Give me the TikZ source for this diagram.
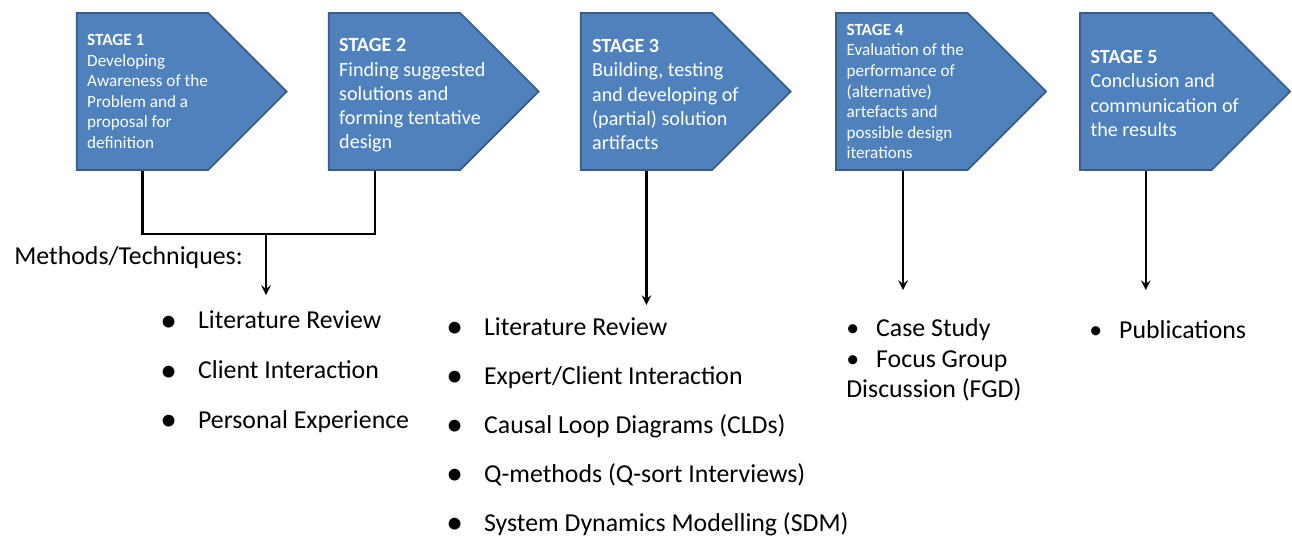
\documentclass[tikz,border=0pt]{standalone}
\usepackage{fontspec}
\setmainfont{Carlito}
\usetikzlibrary{shapes.symbols,calc}

\definecolor{stagefill}{HTML}{4F81BD}
\definecolor{stageline}{HTML}{385D8A}

\newcommand{\bigbul}{\makebox[21.5pt][l]{\fontsize{19}{19}\selectfont\raisebox{-1.3pt}[0pt][0pt]{\textbullet}}}
\newcommand{\smallbul}{\makebox[17pt][l]{\textbullet}}

\begin{document}
\begin{tikzpicture}[x=0.02cm, y=-0.02cm, >=stealth, node distance=5.04cm]
    \tikzstyle{stage} = [draw=stageline, fill=stagefill, line width=1pt,
	shape=signal, signal to=east, signal pointer angle=90,
	minimum width=4.2cm, minimum height=3.14cm, inner sep=0pt]
    \tikzstyle{stagetext} = [anchor=west, align=left, text=white, inner sep=0pt]
    \tikzstyle{small} = [font=\fontsize{9.75}{11.7}\selectfont]
    \tikzstyle{big} = [font=\fontsize{11.45}{13.8}\selectfont]
    \tikzstyle{items} = [anchor=west, align=left, inner sep=0pt]
    \tikzstyle{link} = [line width=1.4pt]

    \useasboundingbox (0,0) rectangle (1292,542);

	% stages
	\path
		node[stage] (s1) at (142.5,91.5) {}
		node[stage, right of=s1] (s2) {}
		node[stage, right of=s2] (s3) {}
		node[stage, right of=s3, xshift=0.07cm] (s4) {}
		node[stage, right of=s4, xshift=-0.16cm] (s5) {}

		node[stagetext, small] (t1) at ($(s1.west)+(11,0)$)
			{\textbf{STAGE 1}\\Developing\\Awareness of the\\Problem and a\\proposal for\\definition}
		node[stagetext, big] (t2) at ($(s2.west)+(11,4)$)
			{\textbf{STAGE 2}\\Finding suggested\\solutions and\\forming tentative\\design}
		node[stagetext, big] (t3) at ($(s3.west)+(12,3)$)
			{\textbf{STAGE 3}\\Building, testing\\and developing of\\(partial) solution\\artifacts}
		node[stagetext, small] (t4) at ($(s4.west)+(11,0)$)
			{\textbf{STAGE 4}\\Evaluation of the\\performance of\\(alternative)\\artefacts and\\possible design\\iterations}
		node[stagetext, big] (t5) at ($(s5.west)+(11,2)$)
			{\textbf{STAGE 5}\\Conclusion and\\communication of\\the results}
	;

	% methods
	\node[items, font=\fontsize{14.7}{17.6}\selectfont] (mt) at (14,258) {Methods/Techniques:};
	\node[items, font=\fontsize{14.7}{28.4}\selectfont] (l1) at (160,372)
		{\bigbul Literature Review\\\bigbul Client Interaction\\\bigbul Personal Experience};
	\node[items, font=\fontsize{14.7}{27.9}\selectfont] (l2) at (446,427)
		{\bigbul Literature Review\\\bigbul Expert/Client Interaction\\\bigbul Causal Loop Diagrams (CLDs)\\\bigbul Q-methods (Q-sort Interviews)\\\bigbul System Dynamics Modelling (SDM)};
	\node[items, font=\fontsize{14.7}{17.2}\selectfont] (l3) at (846,360)
		{\smallbul Case Study\\\smallbul Focus Group\\Discussion (FGD)};
	\node[items, font=\fontsize{14.7}{17.6}\selectfont] (l4) at (1089,330)
		{\smallbul Publications};

	% connectors
	\coordinate (m1) at (266,234);
	\coordinate (a1) at (266,295);
	\coordinate (a2) at (s3.south |- 0,305);
	\coordinate (a3) at (903,290);
	\coordinate (a4) at (s5.south |- 0,290);
	\draw[link] (s1.south) |- (m1) -| ($(s2.south)+(-19.5,0)$);
	\draw[link, ->] (m1) -- (a1);
	\draw[link, ->] (s3.south) -- (a2);
	\draw[link, ->] (s4.south -| a3) -- (a3);
	\draw[link, ->] (s5.south) -- (a4);
\end{tikzpicture}
\end{document}
